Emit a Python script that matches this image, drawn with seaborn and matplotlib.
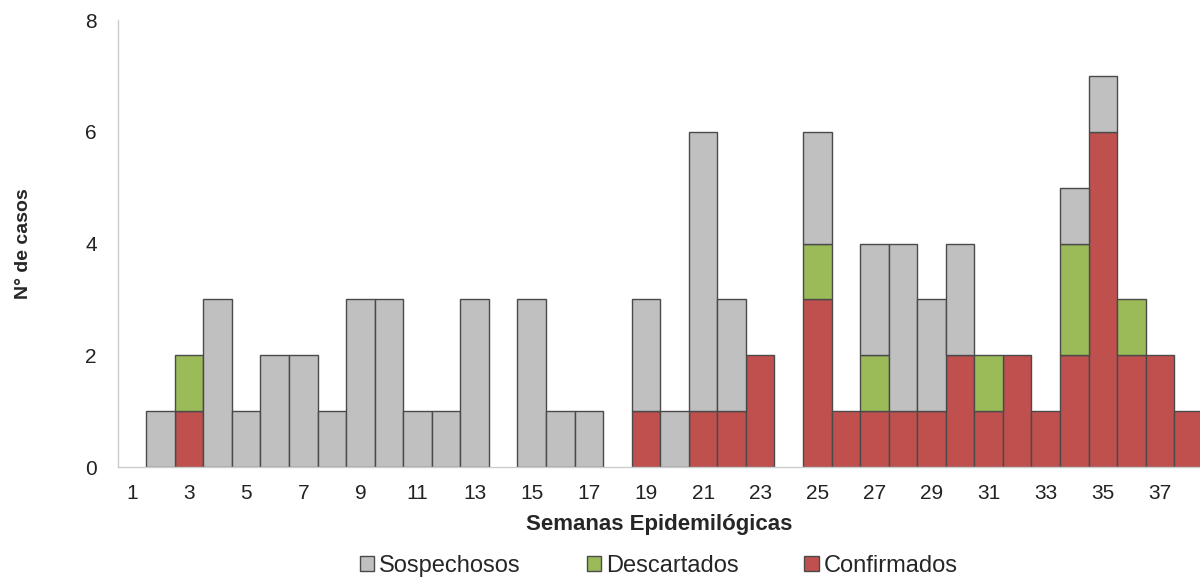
import numpy as np
import pandas as pd
import matplotlib
matplotlib.use("Agg")
import matplotlib.pyplot as plt
import seaborn as sns

semanas = list(range(1, 39))
confirmados = [0, 0, 1, 0, 0, 0, 0, 0, 0, 0, 0, 0, 0, 0, 0, 0, 0, 0, 1, 0,
               1, 1, 2, 0, 3, 1, 1, 1, 1, 2, 1, 2, 1, 2, 6, 2, 2, 1]
descartados = [0, 0, 1, 0, 0, 0, 0, 0, 0, 0, 0, 0, 0, 0, 0, 0, 0, 0, 0, 0,
               0, 0, 0, 0, 1, 0, 1, 0, 0, 0, 1, 0, 0, 2, 0, 1, 0, 0]
sospechosos = [0, 1, 0, 3, 1, 2, 2, 1, 3, 3, 1, 1, 3, 0, 3, 1, 1, 0, 2, 1,
               5, 2, 0, 0, 2, 0, 2, 3, 2, 2, 0, 0, 0, 1, 1, 0, 0, 0]

categorias = ["Sospechosos", "Descartados", "Confirmados"]
colores = {"Sospechosos": "#C0C0C0", "Descartados": "#9BBB59", "Confirmados": "#C0504D"}

df = pd.DataFrame({
    "semana": semanas * 3,
    "casos": sospechosos + descartados + confirmados,
    "tipo": ["Sospechosos"] * 38 + ["Descartados"] * 38 + ["Confirmados"] * 38,
})

sns.set_style("white")
plt.rcParams["font.family"] = ["Liberation Sans", "DejaVu Sans"]

fig = plt.figure(figsize=(12, 5.78), dpi=100)
ax = fig.add_axes([0.098, 0.192, 0.902, 0.773])

sns.histplot(
    data=df, x="semana", weights="casos", hue="tipo",
    hue_order=categorias, palette=colores, multiple="stack",
    discrete=True, alpha=1, edgecolor="#4a4a4a", linewidth=1.0,
    shrink=1.0, ax=ax,
)

# ocultar barras vacias
for p in ax.patches:
    if p.get_height() == 0:
        p.set_visible(False)

ax.set_xlim(0.5, 38.4)
ax.set_ylim(0, 8)
ax.set_xticks(range(1, 38, 2))
ax.set_yticks([0, 2, 4, 6, 8])
ax.tick_params(axis="both", labelsize=15, colors="#222222", length=0)
ax.tick_params(axis="x", pad=12)
ax.tick_params(axis="y", pad=15)
ax.set_xlabel("Semanas Epidemilógicas", fontsize=16, fontweight="bold", labelpad=8)
ax.set_ylabel("N° de casos", fontsize=14, fontweight="bold", labelpad=38)

for s in ["top", "right"]:
    ax.spines[s].set_visible(False)
for s in ["left", "bottom"]:
    ax.spines[s].set_color("#cccccc")
    ax.spines[s].set_linewidth(1.0)

sns.move_legend(
    ax, "center", bbox_to_anchor=(0.5, -0.222), ncol=3,
    frameon=False, title=None, fontsize=17, handlelength=0.6,
    handleheight=0.6, handletextpad=0.2, columnspacing=2.8,
)

fig.savefig("out.png", dpi=100)
